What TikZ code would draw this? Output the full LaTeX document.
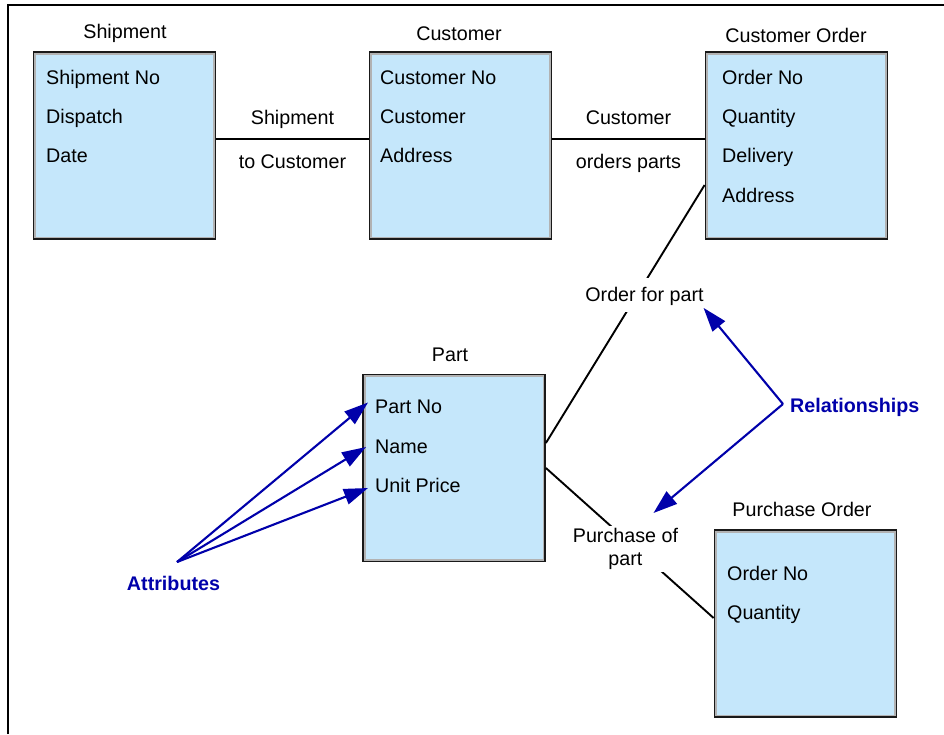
\documentclass[tikz,border=0pt]{standalone}
\usepackage{fontspec}
\setmainfont{Liberation Sans}
\usetikzlibrary{arrows.meta}

\definecolor{entfill}{RGB}{197,231,251}
\definecolor{annoblue}{RGB}{0,0,170}

\tikzset{
  entity/.style={draw=black!90, line width=1.8pt, fill=entfill,
    minimum width=182pt, minimum height=187pt, inner sep=0pt,
    path picture={\draw[black!30, line width=5pt]
      (path picture bounding box.south west) rectangle
      (path picture bounding box.north east);}},
  capline/.style={text height=13.9pt, text depth=0pt},
  attr/.style={capline, anchor=west, inner sep=0pt},
  ttl/.style={capline, inner sep=0pt},
  rel/.style={draw=black, line width=1.9pt},
  rlabel/.style={capline, inner sep=0pt},
  gaplabel/.style={fill=white},
  anno/.style={draw=annoblue, line width=2.1pt,
    -{Triangle[length=24pt,width=16pt]}},
  annotext/.style={capline, text=annoblue, font=\fontsize{19.7}{22.5}\selectfont\bfseries}
}

\begin{document}
\begin{tikzpicture}[x=1pt, y=-1pt, font=\fontsize{19.7}{22.5}\selectfont]

\useasboundingbox (0,0) rectangle (944,734);
\draw[line width=1.5pt] (8,734) -- (8,5) -- (944,5);

% entities
\node[entity] (ship)   at (124.5,145.5) {};
\node[entity] (cust)   at (460.5,145.5) {};
\node[entity] (corder) at (796.5,145.5) {};
\node[entity] (part)   at (454.0,468.0) {};
\node[entity] (porder) at (805.5,623.5) {};

\node[ttl] (tship)   at (125,32)    {Shipment};
\node[ttl] (tcust)   at (459,34)    {Customer};
\node[ttl] (tcorder) at (796,36)    {Customer Order};
\node[ttl] (tpart)   at (450,355)   {Part};
\node[ttl] (tporder) at (802,510)   {Purchase Order};

% attributes
\node[attr] (sno)   at (46,77.5)   {Shipment No};
\node[attr] (sdis)  at (46,116.5)  {Dispatch};
\node[attr] (sdate) at (46,155.5)  {Date};

\node[attr] (cno)   at (380,77.5)  {Customer No};
\node[attr] (ccus)  at (380,116.5) {Customer};
\node[attr] (cadr)  at (380,155.5) {Address};

\node[attr] (ono)   at (722,77.5)  {Order No};
\node[attr] (oqty)  at (722,117)   {Quantity};
\node[attr] (odel)  at (722,156)   {Delivery};
\node[attr] (oadr)  at (722,195.5) {Address};

\node[attr] (pno)   at (375,406.5) {Part No};
\node[attr] (pname) at (375,447)   {Name};
\node[attr] (pup)   at (375,486)   {Unit Price};

\node[attr] (qno)   at (727,574)   {Order No};
\node[attr] (qqty)  at (727,613)   {Quantity};

% relationships
\draw[rel] ([yshift=6.5pt]ship.east) -- ([yshift=6.5pt]cust.west)
  node[rlabel, midway, above=14pt] (lship1) {Shipment}
  node[rlabel, midway, below=14.5pt] (lship2) {to Customer};
\draw[rel] ([yshift=6.5pt]cust.east) -- ([yshift=6.5pt]corder.west)
  node[rlabel, midway, above=14pt] (lord1) {Customer}
  node[rlabel, midway, below=14.5pt] (lord2) {orders parts};
\draw[rel] ([yshift=-39.5pt]corder.west) -- ([yshift=25pt]part.east)
  node[capline, gaplabel, pos=0.426, xshift=7.5pt, inner xsep=3pt, inner ysep=10pt] (ofp) {Order for part};
\draw[rel] (part.east) -- ([yshift=5.5pt]porder.west)
  node[gaplabel, align=center, pos=0.54, xshift=-11pt, inner sep=3pt] (pop) {Purchase of\\part};

% annotations
\node[annotext] (attrib) at (173.5,583.5) {Attributes};
\coordinate (attrhub) at (177,562);
\draw[anno] (attrhub) -- ([shift={(-7,-4)}]pno.west);
\draw[anno] (attrhub) -- ([shift={(-9,0)}]pname.west);
\draw[anno] (attrhub) -- ([shift={(-7,2)}]pup.west);

\node[annotext, anchor=west, inner sep=0pt] (rels) at (790,406) {Relationships};
\coordinate (relhub) at (783,404);
\draw[anno] (relhub) -- ([shift={(-4,13)}]ofp.east);
\draw[anno] (relhub) -- ([shift={(28,-36)}]pop.center);

\end{tikzpicture}
\end{document}
